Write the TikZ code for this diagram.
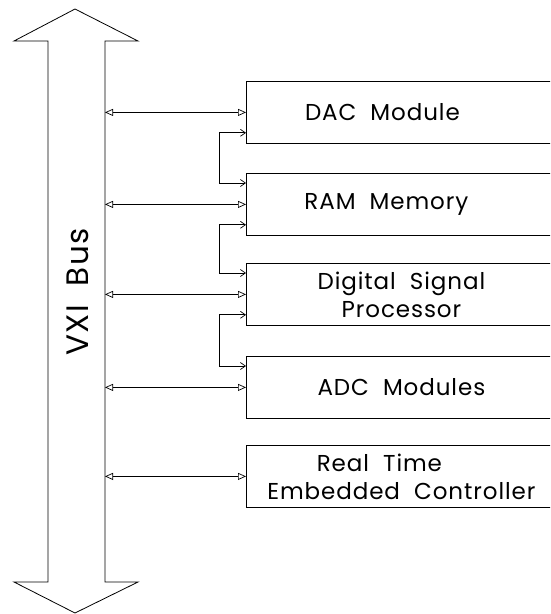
\documentclass[tikz,border=0pt]{standalone}
\usepackage{fontspec}
\setmainfont{Poppins}[LetterSpace=4]
\usetikzlibrary{arrows.meta, positioning}

\tikzset{
  modbox/.style={draw, line width=0.8pt, minimum width=310pt, minimum height=62pt,
    anchor=north west, align=center, font=\fontsize{23}{28}\selectfont},
  buslink/.style={line width=0.7pt,
    {Triangle[open,length=8pt,width=7pt]}-{Triangle[open,length=8pt,width=7pt]}},
  chain/.style={line width=0.7pt,
    {Straight Barb[length=5pt,width=7pt]}-{Straight Barb[length=5pt,width=7pt]}}
}

\begin{document}
\begin{tikzpicture}[x=1pt, y=-1pt]
  \useasboundingbox (0,0) rectangle (550,614);
  \clip (0,0) rectangle (550,614);

  % the bus, a long double arrow
  \draw[line width=0.8pt] (75,9) -- (138,41) -- (105,41) -- (105,582) -- (138,582)
    -- (75,613) -- (14,582) -- (48,582) -- (48,41) -- (14,41) -- cycle;
  \node[rotate=90, font=\fontsize{31}{32}\selectfont] (vxi) at (78,292) {VXI\ \ Bus};
  \coordinate (bus) at (105,0);

  % modules
  \node[modbox] (dac) at (246,81)  {DAC\ \ Module\hspace*{38pt}};
  \node[modbox] (ram) at (246,173) {RAM\ \ Memory\hspace*{30pt}};
  \node[modbox] (dsp) at (246,263) {Digital\ \ Signal\\Processor};
  \node[modbox] (adc) at (246,356) {ADC\ \ Modules};
  \node[modbox] (rtc) at (246,445) {Real\ \ Time\hspace*{44pt}\\Embedded\ \ Controller};

  \foreach \m in {dac, ram, dsp, adc, rtc}
    \draw[buslink] (bus |- \m.west) -- (\m.west);

  \foreach \a/\b in {dac/ram, ram/dsp, dsp/adc}
    \draw[chain] ([yshift=11pt]\a.south west) -- ++(-27,0) |- ([yshift=-10pt]\b.north west);
\end{tikzpicture}
\end{document}
